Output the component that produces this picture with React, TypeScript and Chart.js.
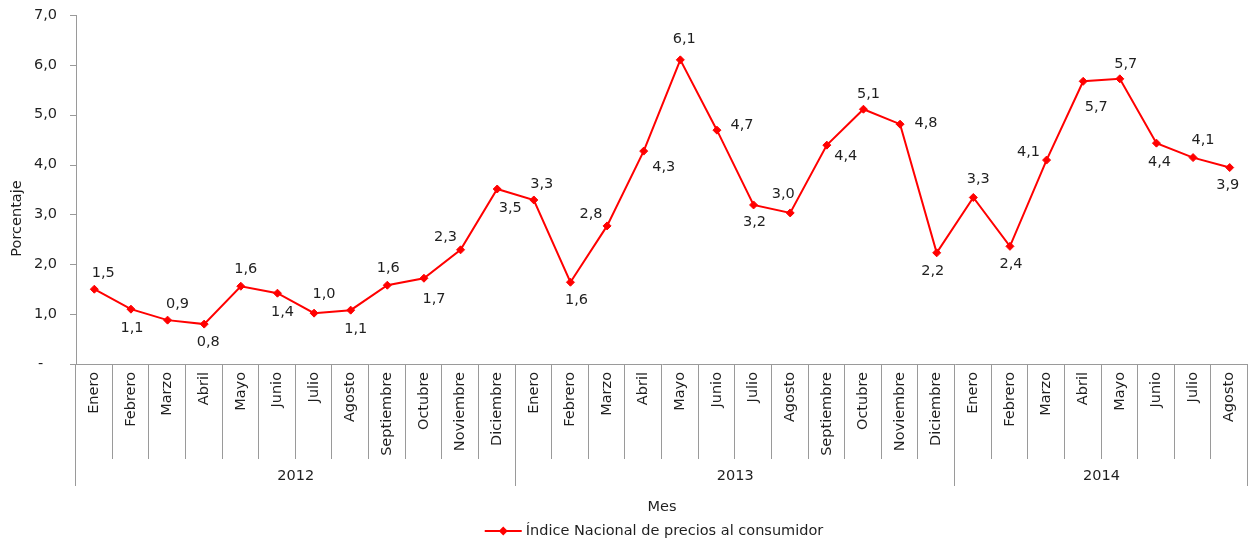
import React, { useEffect, useRef } from 'react';
import { Chart, registerables } from 'chart.js';

Chart.register(...registerables);

const months = ['Enero', 'Febrero', 'Marzo', 'Abril', 'Mayo', 'Junio', 'Julio', 'Agosto', 'Septiembre', 'Octubre', 'Noviembre', 'Diciembre'];
const years = ['2012', '2013', '2014'];
const yearSpans = [12, 12, 8];
const monthLabels = [...months, ...months, ...months.slice(0, 8)];
const inpcValues = [
  1.50, 1.10, 0.88, 0.80, 1.56, 1.42, 1.02, 1.08, 1.58, 1.72, 2.29, 3.51,
  3.29, 1.64, 2.77, 4.27, 6.10, 4.69, 3.19, 3.03, 4.39, 5.11, 4.81, 2.23,
  3.34, 2.36, 4.09, 5.67, 5.72, 4.43, 4.14, 3.94,
];
const yTicks = [0, 1, 2, 3, 4, 5, 6, 7];
const seriesName = 'Índice Nacional de precios al consumidor';
const xTitle = 'Mes';
const yTitle = 'Porcentaje';

// data-label placement relative to each point (dx, dy)
const labelOffsets: [number, number][] = [
  [9, -16], [1, 19], [10, -16], [4, 18], [5, -17], [5, 19], [10, -19], [5, 19], [1, -17], [10, 21], [-15, -13], [13, 19],
  [8, -16], [6, 18], [-16, -12], [20, 16], [4, -21], [25, -5], [1, 17], [-7, -19], [19, 11], [5, -15], [26, -1], [-4, 18],
  [5, -18], [1, 18], [-18, -8], [13, 26], [6, -15], [3, 19], [10, -17], [-2, 18],
];

const FONT = '"DejaVu Sans", Verdana, sans-serif';
const FS = 14.5;
const TEXT = '#1f1f1f';
const AXIS = '#9a9a9a';
const RED = '#ff0000';
const CLEAR = 'rgba(0,0,0,0)';

const fmt = (v: number) => v.toFixed(1).replace('.', ',');

const decor = {
  id: 'decor',
  afterDraw(chart: any) {
    const ctx = chart.ctx as CanvasRenderingContext2D;
    const xs = chart.scales.x;
    const ys = chart.scales.y;
    const ca = chart.chartArea;
    ctx.save();
    ctx.strokeStyle = AXIS;
    ctx.lineWidth = 1;
    // y tick marks
    yTicks.forEach((v) => {
      const y = Math.round(ys.getPixelForValue(v)) + 0.5;
      ctx.beginPath();
      ctx.moveTo(ca.left - 6, y);
      ctx.lineTo(ca.left, y);
      ctx.stroke();
    });
    // category separators
    const yearBounds = new Set<number>([0]);
    let acc = 0;
    yearSpans.forEach((s) => { acc += s; yearBounds.add(acc); });
    for (let i = 0; i <= monthLabels.length; i++) {
      const x = Math.round(xs.getPixelForValue(i - 0.5)) - 0.5;
      const yEnd = ca.bottom + (yearBounds.has(i) ? 122 : 95);
      ctx.beginPath();
      ctx.moveTo(x, ca.bottom);
      ctx.lineTo(x, yEnd);
      ctx.stroke();
    }
    // year labels
    ctx.font = `${FS}px ${FONT}`;
    ctx.fillStyle = TEXT;
    ctx.textAlign = 'center';
    ctx.textBaseline = 'middle';
    let start = 0;
    years.forEach((yr, k) => {
      const end = start + yearSpans[k];
      const x0 = xs.getPixelForValue(start - 0.5);
      const x1 = xs.getPixelForValue(end - 0.5);
      ctx.fillText(yr, (x0 + x1) / 2, ca.bottom + 112);
      start = end;
    });
    // y-axis title
    ctx.save();
    ctx.translate(17, (ca.top + ca.bottom) / 2 + 29);
    ctx.rotate(-Math.PI / 2);
    ctx.fillText(yTitle, 0, 0);
    ctx.restore();
    // data labels
    const meta = chart.getDatasetMeta(0);
    meta.data.forEach((pt: any, i: number) => {
      const [dx, dy] = labelOffsets[i] || [0, -16];
      ctx.fillText(fmt(inpcValues[i]), pt.x + dx, pt.y + dy);
    });
    // legend
    const ly = 531;
    const tw = ctx.measureText(seriesName).width;
    const total = 37 + 4 + tw;
    const lx = (ca.left + ca.right) / 2 - 8 - total / 2;
    ctx.strokeStyle = RED;
    ctx.lineWidth = 2;
    ctx.beginPath();
    ctx.moveTo(lx, ly);
    ctx.lineTo(lx + 37, ly);
    ctx.stroke();
    ctx.fillStyle = RED;
    ctx.beginPath();
    const cx = lx + 18.5;
    ctx.moveTo(cx - 4.5, ly);
    ctx.lineTo(cx, ly - 4.5);
    ctx.lineTo(cx + 4.5, ly);
    ctx.lineTo(cx, ly + 4.5);
    ctx.closePath();
    ctx.fill();
    ctx.fillStyle = TEXT;
    ctx.textAlign = 'left';
    ctx.fillText(seriesName, lx + 41, ly);
    ctx.restore();
  },
};

export default function App() {
  const ref = useRef<HTMLCanvasElement | null>(null);
  useEffect(() => {
    if (!ref.current) return;
    const chart = new Chart(ref.current, {
      type: 'line',
      data: {
        labels: monthLabels,
        datasets: [
          {
            label: seriesName,
            data: inpcValues,
            borderColor: RED,
            backgroundColor: RED,
            borderWidth: 2,
            pointStyle: 'rectRot',
            pointRadius: 4,
            pointBorderWidth: 1,
            pointBackgroundColor: RED,
            pointBorderColor: RED,
            tension: 0,
            fill: false,
          },
        ],
      },
      options: {
        animation: false,
        responsive: true,
        maintainAspectRatio: false,
        layout: { padding: { top: 15, right: 0, left: 0, bottom: 0 } },
        plugins: {
          legend: { display: false },
          tooltip: { enabled: false },
        },
        scales: {
          x: {
            type: 'category',
            offset: true,
            grid: { display: true, drawOnChartArea: false, drawTicks: true, tickLength: 8, tickColor: CLEAR, color: AXIS },
            border: { display: true, color: AXIS, width: 1 },
            ticks: {
              autoSkip: false,
              maxRotation: 90,
              minRotation: 90,
              padding: 0,
              color: TEXT,
              font: { family: FONT, size: FS },
            },
            title: {
              display: true,
              text: xTitle,
              color: TEXT,
              font: { family: FONT, size: FS },
              padding: { top: 0, bottom: 24 },
            },
            afterFit: (s: any) => { s.height = 176; },
          },
          y: {
            min: 0,
            max: 7,
            grid: { display: true, drawOnChartArea: false, drawTicks: true, tickLength: 19, tickColor: CLEAR, color: AXIS },
            border: { display: true, color: AXIS, width: 1 },
            afterBuildTicks: (s: any) => { s.ticks = yTicks.map((v) => ({ value: v })); },
            ticks: {
              padding: 0,
              color: TEXT,
              font: { family: FONT, size: FS },
              callback: (v: any) => (Number(v) === 0 ? '-   ' : fmt(Number(v))),
            },
            afterFit: (s: any) => { s.width = 76; },
          },
        },
      },
      plugins: [decor],
    });
    return () => chart.destroy();
  }, []);
  return (
    <div style={{ position: 'absolute', left: 0, top: 0, width: 1248, height: 540, overflow: 'hidden' }}>
      <div style={{ position: 'relative', width: 1253, height: 540 }}>
        <canvas ref={ref} />
      </div>
    </div>
  );
}
